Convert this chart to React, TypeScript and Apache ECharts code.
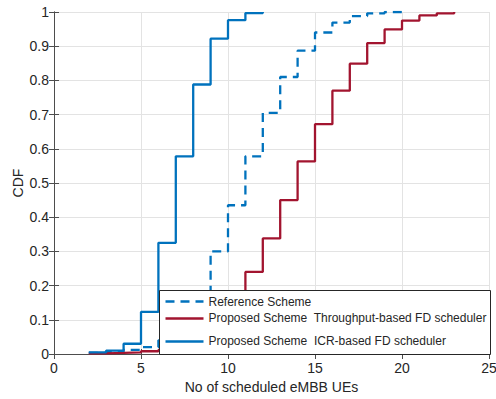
import React, { useEffect, useRef } from "react";
import * as echarts from "echarts";

const xTicks = [0, 5, 10, 15, 20, 25];
const refX = [2, 3, 4, 5, 6, 7, 8, 9, 10, 11, 12, 13, 14, 15, 16, 17, 18, 19, 20];
const refY = [0.003, 0.006, 0.012, 0.02, 0.04, 0.08, 0.15, 0.3, 0.435, 0.578, 0.705, 0.81, 0.887, 0.94, 0.969, 0.988, 0.996, 1.0, 1.0];
const thrX = [2, 3, 4, 5, 6, 7, 8, 9, 10, 11, 12, 13, 14, 15, 16, 17, 18, 19, 20, 21, 22, 23];
const thrY = [0.002, 0.003, 0.005, 0.008, 0.012, 0.025, 0.05, 0.09, 0.15, 0.24, 0.338, 0.45, 0.563, 0.672, 0.77, 0.849, 0.909, 0.949, 0.975, 0.99, 0.996, 1.0];
const icrX = [2, 3, 4, 5, 6, 7, 8, 9, 10, 11, 12];
const icrY = [0.005, 0.01, 0.03, 0.123, 0.325, 0.578, 0.788, 0.922, 0.976, 0.997, 1.0];
const names = [
  "Reference Scheme",
  "Proposed Scheme  Throughput-based FD scheduler",
  "Proposed Scheme  ICR-based FD scheduler",
];

const BLUE = "#0072BD";
const RED = "#A2142F";
const TXT = "#262626";
const AX = "#4d4d4d";
const FONT = "Liberation Sans, Arial, sans-serif";

export default function App() {
  const ref = useRef<HTMLDivElement>(null);
  useEffect(() => {
    const chart = echarts.init(ref.current!, null, { renderer: "svg" });
    const zip = (xs: number[], ys: number[]) => xs.map((x, i) => [x, ys[i]]);
    const axisCommon = {
      axisLine: { show: true, lineStyle: { color: AX, width: 1 } },
      axisTick: { show: true, inside: true, length: 5, lineStyle: { color: AX } },
    };
    const Z = 100;
    chart.setOption({
      animation: false,
      textStyle: { fontFamily: FONT },
      grid: { left: 54, right: 7, top: 12, bottom: 45, outerBoundsMode: "none", containLabel: false },
      xAxis: [
        {
          type: "value", min: 0, max: 25, interval: 5, position: "bottom",
          ...axisCommon,
          axisLabel: { color: TXT, fontSize: 14, margin: 7, fontFamily: FONT },
          splitLine: { show: true, lineStyle: { color: "#e3e3e3" } },
          name: "No of scheduled eMBB UEs", nameLocation: "middle", nameGap: 26,
          nameMoveOverlap: false,
          nameTextStyle: { color: TXT, fontSize: 14, fontFamily: FONT },
        },
        {
          type: "value", min: 0, max: 25, interval: 5, position: "top",
          ...axisCommon, axisLabel: { show: false }, splitLine: { show: false },
        },
      ],
      yAxis: [
        {
          type: "value", min: 0, max: 1, interval: 0.1, position: "left",
          ...axisCommon,
          axisLabel: {
            color: TXT, fontSize: 14, margin: 5, fontFamily: FONT,
            formatter: (v: number) => String(Math.round(v * 10) / 10),
          },
          splitLine: { show: true, lineStyle: { color: "#e3e3e3" } },
          name: "CDF", nameLocation: "middle", nameGap: 29, nameRotate: 90,
          nameMoveOverlap: false,
          nameTextStyle: { color: TXT, fontSize: 14, fontFamily: FONT },
        },
        {
          type: "value", min: 0, max: 1, interval: 0.1, position: "right",
          ...axisCommon, axisLabel: { show: false }, splitLine: { show: false },
        },
      ],
      series: [
        {
          name: names[0], type: "line", step: "end", showSymbol: false,
          data: zip(refX, refY),
          lineStyle: { color: BLUE, width: 2.3, type: [9, 6] }, itemStyle: { color: BLUE },
        },
        {
          name: names[1], type: "line", step: "end", showSymbol: false,
          data: zip(thrX, thrY),
          lineStyle: { color: RED, width: 2.3 }, itemStyle: { color: RED },
        },
        {
          name: names[2], type: "line", step: "end", showSymbol: false,
          data: zip(icrX, icrY),
          lineStyle: { color: BLUE, width: 2.3 }, itemStyle: { color: BLUE },
        },
      ],
      graphic: [
        {
          type: "group", z: Z, zlevel: 0, left: 159, top: 290,
          children: [
            { type: "rect", z: Z, shape: { x: 0, y: 0, width: 331, height: 64 }, style: { fill: "#fff", stroke: "#262626", lineWidth: 1 } },
            { type: "line", z: Z + 1, shape: { x1: 6, y1: 11, x2: 44, y2: 11 }, style: { stroke: BLUE, lineWidth: 2.3, lineDash: [9, 6] } },
            { type: "line", z: Z + 1, shape: { x1: 6, y1: 28, x2: 44, y2: 28 }, style: { stroke: RED, lineWidth: 2.3 } },
            { type: "line", z: Z + 1, shape: { x1: 6, y1: 51, x2: 44, y2: 51 }, style: { stroke: BLUE, lineWidth: 2.3 } },
            { type: "text", z: Z + 1, x: 49, y: 11, style: { text: names[0], fill: TXT, font: `12px ${FONT}`, verticalAlign: "middle" } },
            { type: "text", z: Z + 1, x: 49, y: 27, style: { text: names[1], fill: TXT, font: `12px ${FONT}`, verticalAlign: "middle" } },
            { type: "text", z: Z + 1, x: 49, y: 50, style: { text: names[2], fill: TXT, font: `12px ${FONT}`, verticalAlign: "middle" } },
          ],
        },
      ],
    });
    return () => chart.dispose();
  }, []);
  return <div ref={ref} style={{ width: 496, height: 399, position: "absolute", left: 0, top: 0 }} />;
}
